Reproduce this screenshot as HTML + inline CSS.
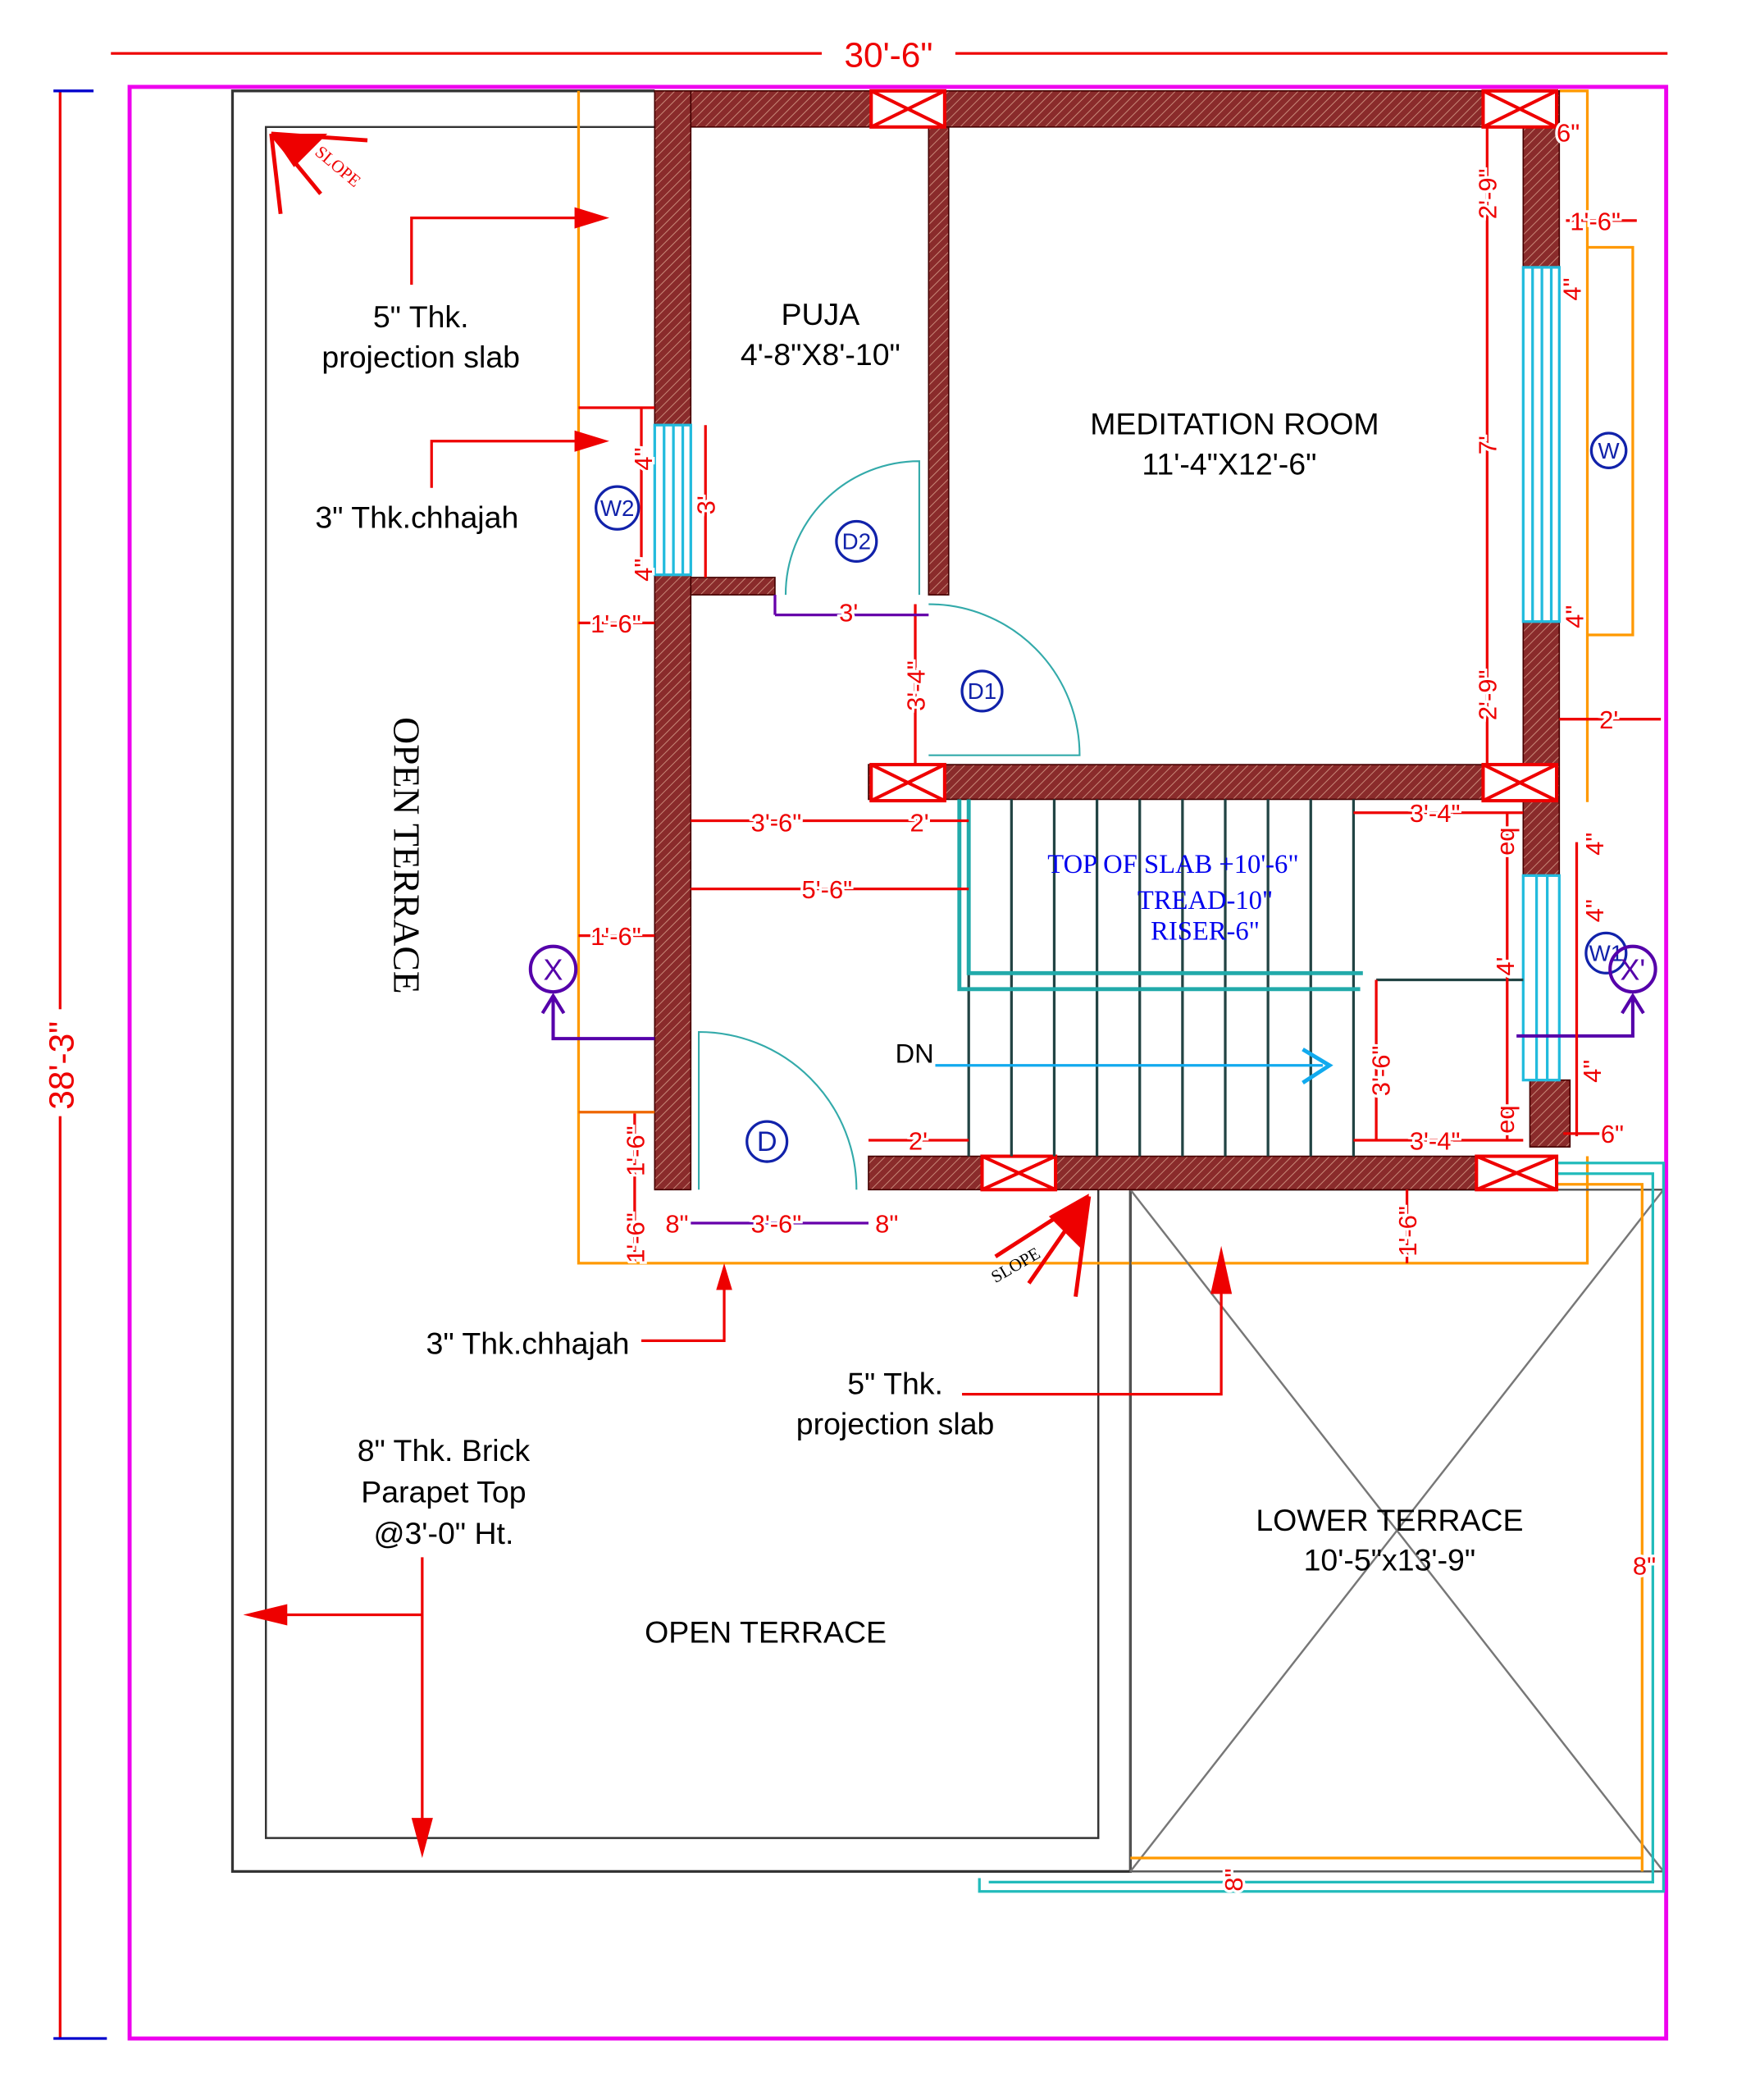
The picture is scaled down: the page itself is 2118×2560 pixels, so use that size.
<!DOCTYPE html>
<html><head><meta charset="utf-8"><style>
html,body{margin:0;padding:0;background:#fff}
svg{display:block}
text{font-family:"Liberation Sans",sans-serif}
.dim text{paint-order:stroke;stroke:#fff;stroke-width:4px}
</style></head><body>
<svg width="2118" height="2560" viewBox="0 0 1300 1571" preserveAspectRatio="none" xmlns="http://www.w3.org/2000/svg">
<defs>
<pattern id="h" width="5" height="5" patternUnits="userSpaceOnUse" patternTransform="rotate(45)">
<rect width="5" height="5" fill="#8a2b2b"/><line x1="0" y1="0" x2="0" y2="5" stroke="#c98a7a" stroke-width="1.2"/></pattern>
</defs>
<rect width="1300" height="1571" fill="#fff"/>
<line x1="83" y1="40" x2="1248" y2="40" stroke="#e00" stroke-width="2"/>
<rect x="615" y="28" width="100" height="24" fill="#fff"/>
<text x="665" y="50" text-anchor="middle" style="font-size:26px;fill:#e00">30'-6"</text>
<line x1="45" y1="68" x2="45" y2="1525" stroke="#e00" stroke-width="2"/>
<line x1="40" y1="68" x2="70" y2="68" stroke="#00c" stroke-width="2"/>
<line x1="40" y1="1525" x2="80" y2="1525" stroke="#00c" stroke-width="2"/>
<rect x="32" y="755" width="26" height="80" fill="#fff"/>
<text transform="translate(55,797) rotate(-90)" text-anchor="middle" style="font-size:26px;fill:#e00">38'-3"</text>
<rect x="97" y="65" width="1150" height="1460" fill="none" stroke="#e0e" stroke-width="3"/>
<polyline points="490,68 174,68 174,1400 846,1400 846,890" fill="none" stroke="#333" stroke-width="2"/>
<polyline points="490,95 199,95 199,1375 822,1375 822,890" fill="none" stroke="#333" stroke-width="1.5"/>
<polyline points="433,68 433,945 1188,945 1188,865" fill="none" stroke="#f90" stroke-width="2"/>
<polyline points="1167,68 1188,68 1188,600" fill="none" stroke="#f90" stroke-width="2"/>
<polyline points="1188,185 1222,185 1222,475 1188,475" fill="none" stroke="#f90" stroke-width="2"/>
<rect x="846" y="890" width="399" height="510" fill="none" stroke="#555" stroke-width="1.5"/>
<line x1="846" y1="890" x2="1245" y2="1400" stroke="#777" stroke-width="1.5"/>
<line x1="1245" y1="890" x2="846" y2="1400" stroke="#777" stroke-width="1.5"/>
<polyline points="1165,870 1245,870 1245,1415 733,1415 733,1405" fill="none" stroke="#2bb" stroke-width="2"/>
<polyline points="1165,878 1237,878 1237,1408 740,1408" fill="none" stroke="#2bb" stroke-width="2"/>
<polyline points="1165,886 1229,886 1229,1400" fill="none" stroke="#f90" stroke-width="2"/>
<line x1="846" y1="1390" x2="1229" y2="1390" stroke="#f90" stroke-width="2"/>
<g fill="url(#h)" stroke="#400" stroke-width="1">
<rect x="490" y="68" width="675" height="27"/>
<rect x="490" y="68" width="27" height="250"/>
<rect x="490" y="430" width="27" height="460"/>
<rect x="695" y="95" width="15" height="350"/>
<rect x="1140" y="68" width="27" height="132"/>
<rect x="1140" y="465" width="27" height="190"/>
<rect x="650" y="572" width="515" height="26"/>
<rect x="650" y="865" width="515" height="25"/>
<rect x="517" y="432" width="63" height="13"/>
<rect x="1145" y="808" width="30" height="50"/>
</g>
<g fill="#fff" stroke="#e00" stroke-width="2.5">
<rect x="652" y="68" width="55" height="27"/><rect x="1110" y="68" width="55" height="27"/>
<rect x="652" y="572" width="55" height="27"/><rect x="1110" y="572" width="55" height="27"/>
<rect x="735" y="865" width="55" height="25"/><rect x="1105" y="865" width="60" height="25"/>
</g>
<g stroke="#e00" stroke-width="2.5">
<path d="M652,68L707,95M707,68L652,95M1110,68L1165,95M1165,68L1110,95M652,572L707,599M707,572L652,599M1110,572L1165,599M1165,572L1110,599M735,865L790,890M790,865L735,890M1105,865L1165,890M1165,865L1105,890"/>
</g>
<g stroke="#2bd" stroke-width="2" fill="none">
<rect x="490" y="318" width="27" height="112"/>
<line x1="497" y1="318" x2="497" y2="430"/><line x1="504" y1="318" x2="504" y2="430"/><line x1="511" y1="318" x2="511" y2="430"/>
<rect x="1140" y="200" width="27" height="265"/>
<line x1="1147" y1="200" x2="1147" y2="465"/><line x1="1154" y1="200" x2="1154" y2="465"/><line x1="1161" y1="200" x2="1161" y2="465"/>
<rect x="1140" y="655" width="27" height="153"/>
<line x1="1150" y1="655" x2="1150" y2="808"/><line x1="1158" y1="655" x2="1158" y2="808"/>
</g>
<g stroke="#244" stroke-width="2">
<line x1="725" y1="598" x2="725" y2="865"/><line x1="757" y1="598" x2="757" y2="865"/><line x1="789" y1="598" x2="789" y2="865"/>
<line x1="821" y1="598" x2="821" y2="865"/><line x1="853" y1="598" x2="853" y2="865"/><line x1="885" y1="598" x2="885" y2="865"/>
<line x1="917" y1="598" x2="917" y2="865"/><line x1="949" y1="598" x2="949" y2="865"/><line x1="981" y1="598" x2="981" y2="865"/>
<line x1="1013" y1="598" x2="1013" y2="865"/>
<line x1="1030" y1="733" x2="1140" y2="733"/>
</g>
<polyline points="718,598 718,740 1018,740" fill="none" stroke="#2aa" stroke-width="3"/>
<polyline points="725,598 725,728 1020,728" fill="none" stroke="#2aa" stroke-width="3"/>
<line x1="700" y1="797" x2="990" y2="797" stroke="#1ae" stroke-width="2"/>
<path d="M975,785L995,797L975,810" fill="none" stroke="#1ae" stroke-width="3"/>
<text x="670" y="795" style="font-size:20px">DN</text>
<text x="878" y="653" text-anchor="middle" style="font-family:'Liberation Serif',serif;font-size:20px;fill:#00e">TOP OF SLAB +10'-6"</text>
<text x="902" y="680" text-anchor="middle" style="font-family:'Liberation Serif',serif;font-size:20px;fill:#00e">TREAD-10"</text>
<text x="902" y="703" text-anchor="middle" style="font-family:'Liberation Serif',serif;font-size:20px;fill:#00e">RISER-6"</text>
<g stroke="#3aa" stroke-width="1.3" fill="none">
<path d="M588,445 A100,100 0 0 1 688,345 L688,445"/>
<path d="M695,565 L808,565 A113,113 0 0 0 695,452"/>
<path d="M523,890 L523,772 A118,118 0 0 1 641,890"/>
</g>
<g stroke="#12a" stroke-width="2" fill="none">
<circle cx="641" cy="405" r="15"/><circle cx="735" cy="517" r="15"/><circle cx="574" cy="854" r="15"/>
<circle cx="462" cy="380" r="16"/><circle cx="1204" cy="337" r="13"/><circle cx="1202" cy="713" r="15"/>
</g>
<g fill="#12a" text-anchor="middle" style="font-size:17px">
<text x="641" y="411">D2</text><text x="735" y="523">D1</text><text x="574" y="861" style="font-size:21px">D</text>
<text x="462" y="386">W2</text><text x="1204" y="343">W</text><text x="1202" y="719">W1</text>
</g>
<g stroke="#50a" stroke-width="2.5" fill="none">
<circle cx="414" cy="725" r="17"/><circle cx="1222" cy="725" r="17"/>
<polyline points="414,745 414,777 490,777"/><polyline points="1222,745 1222,775 1135,775"/>
<path d="M406,758L414,745L422,758M1214,758L1222,745L1230,758"/>
</g>
<text x="414" y="733" text-anchor="middle" style="font-size:22px;fill:#50a">X</text>
<text x="1222" y="733" text-anchor="middle" style="font-size:22px;fill:#50a">X'</text>
<g text-anchor="middle" style="font-size:23px;fill:#000">
<text x="614" y="243">PUJA</text><text x="614" y="273">4'-8"X8'-10"</text>
<text x="924" y="325">MEDITATION ROOM</text><text x="920" y="355">11'-4"X12'-6"</text>
<text x="315" y="245">5" Thk.</text><text x="315" y="275">projection slab</text>
<text x="312" y="395">3" Thk.chhajah</text>
<text x="395" y="1013">3" Thk.chhajah</text>
<text x="670" y="1043">5" Thk.</text><text x="670" y="1073">projection slab</text>
<text x="332" y="1093">8" Thk. Brick</text><text x="332" y="1124">Parapet Top</text><text x="332" y="1155">@3'-0" Ht.</text>
<text x="573" y="1229">OPEN TERRACE</text>
<text x="1040" y="1145">LOWER TERRACE</text><text x="1040" y="1175">10'-5"x13'-9"</text>
</g>
<text transform="translate(295,640) rotate(90)" text-anchor="middle" style="font-family:'Liberation Serif',serif;font-size:28px">OPEN TERRACE</text>
<g stroke="#e00" stroke-width="2" fill="none">
<polyline points="308,213 308,163 440,163"/>
<polyline points="323,365 323,330 440,330"/>
<polyline points="480,1003 542,1003 542,958"/>
<polyline points="720,1043 914,1043 914,945"/>
<polyline points="316,1165 316,1375"/><line x1="316" y1="1208" x2="195" y2="1208"/>
</g>
<g fill="#e00">
<path d="M456,163L430,155L430,171Z"/><path d="M456,330L430,322L430,338Z"/>
<path d="M542,945L536,965L548,965Z"/><path d="M914,932L906,968L922,968Z"/>
<path d="M316,1390L308,1360L324,1360Z"/><path d="M182,1208L215,1200L215,1216Z"/>
</g>
<g stroke="#e00" stroke-width="3" fill="none">
<path d="M203,100L210,160M203,100L240,145M203,100L275,105"/>
<path d="M815,895L745,940M815,895L770,960M815,895L805,970"/>
</g>
<path d="M203,100L245,100L220,125Z" fill="#e00"/>
<path d="M815,893L785,910L810,935Z" fill="#e00"/>
<text transform="translate(235,115) rotate(40)" style="font-family:'Liberation Serif',serif;font-size:13px;fill:#e00">SLOPE</text>
<text transform="translate(745,960) rotate(-30)" style="font-family:'Liberation Serif',serif;font-size:13px;fill:#000">SLOPE</text>
<g stroke="#e00" stroke-width="2" fill="none">
<line x1="1113" y1="95" x2="1113" y2="572"/>
<line x1="1172" y1="165" x2="1225" y2="165"/>
<line x1="1167" y1="538" x2="1243" y2="538"/>
<line x1="433" y1="305" x2="490" y2="305"/><line x1="480" y1="305" x2="480" y2="430"/>
<line x1="528" y1="318" x2="528" y2="432"/>
<line x1="433" y1="466" x2="490" y2="466"/>
<line x1="433" y1="700" x2="490" y2="700"/>
<line x1="685" y1="452" x2="685" y2="572"/>
<line x1="517" y1="614" x2="725" y2="614"/>
<line x1="517" y1="665" x2="725" y2="665"/>
<line x1="1013" y1="608" x2="1140" y2="608"/>
<line x1="1013" y1="853" x2="1140" y2="853"/>
<line x1="1030" y1="733" x2="1030" y2="853"/>
<line x1="1128" y1="608" x2="1128" y2="853"/>
<line x1="650" y1="853" x2="725" y2="853"/>
<line x1="1053" y1="890" x2="1053" y2="945"/>
<line x1="1180" y1="630" x2="1180" y2="850"/>
<line x1="1170" y1="848" x2="1200" y2="848"/>
<line x1="475" y1="833" x2="475" y2="945"/>
</g>
<line x1="433" y1="832" x2="490" y2="832" stroke="#e60" stroke-width="2"/>
<line x1="517" y1="915" x2="650" y2="915" stroke="#60a" stroke-width="2"/>
<line x1="580" y1="460" x2="695" y2="460" stroke="#60a" stroke-width="2"/>
<line x1="580" y1="445" x2="580" y2="460" stroke="#60a" stroke-width="2"/>
<g class="dim" style="font-size:19px;fill:#e00">
<text transform="translate(1120,145) rotate(-90)" text-anchor="middle">2'-9"</text>
<text transform="translate(1120,333) rotate(-90)" text-anchor="middle">7'</text>
<text transform="translate(1120,520) rotate(-90)" text-anchor="middle">2'-9"</text>
<text x="1165" y="106">6"</text>
<text x="1175" y="172">1'-6"</text>
<text transform="translate(1183,225) rotate(-90)">4"</text>
<text transform="translate(1185,470) rotate(-90)">4"</text>
<text x="1197" y="545">2'</text>
<text transform="translate(488,352) rotate(-90)">4"</text>
<text transform="translate(535,385) rotate(-90)">3'</text>
<text transform="translate(488,435) rotate(-90)">4"</text>
<text x="442" y="473">1'-6"</text>
<text x="442" y="707">1'-6"</text>
<text x="628" y="465">3'</text>
<text transform="translate(692,532) rotate(-90)">3'-4"</text>
<text x="562" y="622">3'-6"</text>
<text x="681" y="622">2'</text>
<text x="600" y="672">5'-6"</text>
<text x="1055" y="615">3'-4"</text>
<text transform="translate(1133,640) rotate(-90)">eq</text>
<text transform="translate(1133,730) rotate(-90)">4'</text>
<text transform="translate(1133,848) rotate(-90)">eq</text>
<text transform="translate(1040,820) rotate(-90)">3'-6"</text>
<text x="1055" y="860">3'-4"</text>
<text x="680" y="860">2'</text>
<text x="1198" y="855">6"</text>
<text transform="translate(1200,640) rotate(-90)">4"</text>
<text transform="translate(1200,690) rotate(-90)">4"</text>
<text transform="translate(1198,810) rotate(-90)">4"</text>
<text transform="translate(482,880) rotate(-90)">1'-6"</text>
<text transform="translate(482,945) rotate(-90)">1'-6"</text>
<text x="498" y="922">8"</text>
<text x="562" y="922">3'-6"</text>
<text x="655" y="922">8"</text>
<text transform="translate(1060,940) rotate(-90)">1'-6"</text>
<text x="1222" y="1178">8"</text>
<text transform="translate(930,1415) rotate(-90)">8"</text>
</g>
</svg>
</body></html>
